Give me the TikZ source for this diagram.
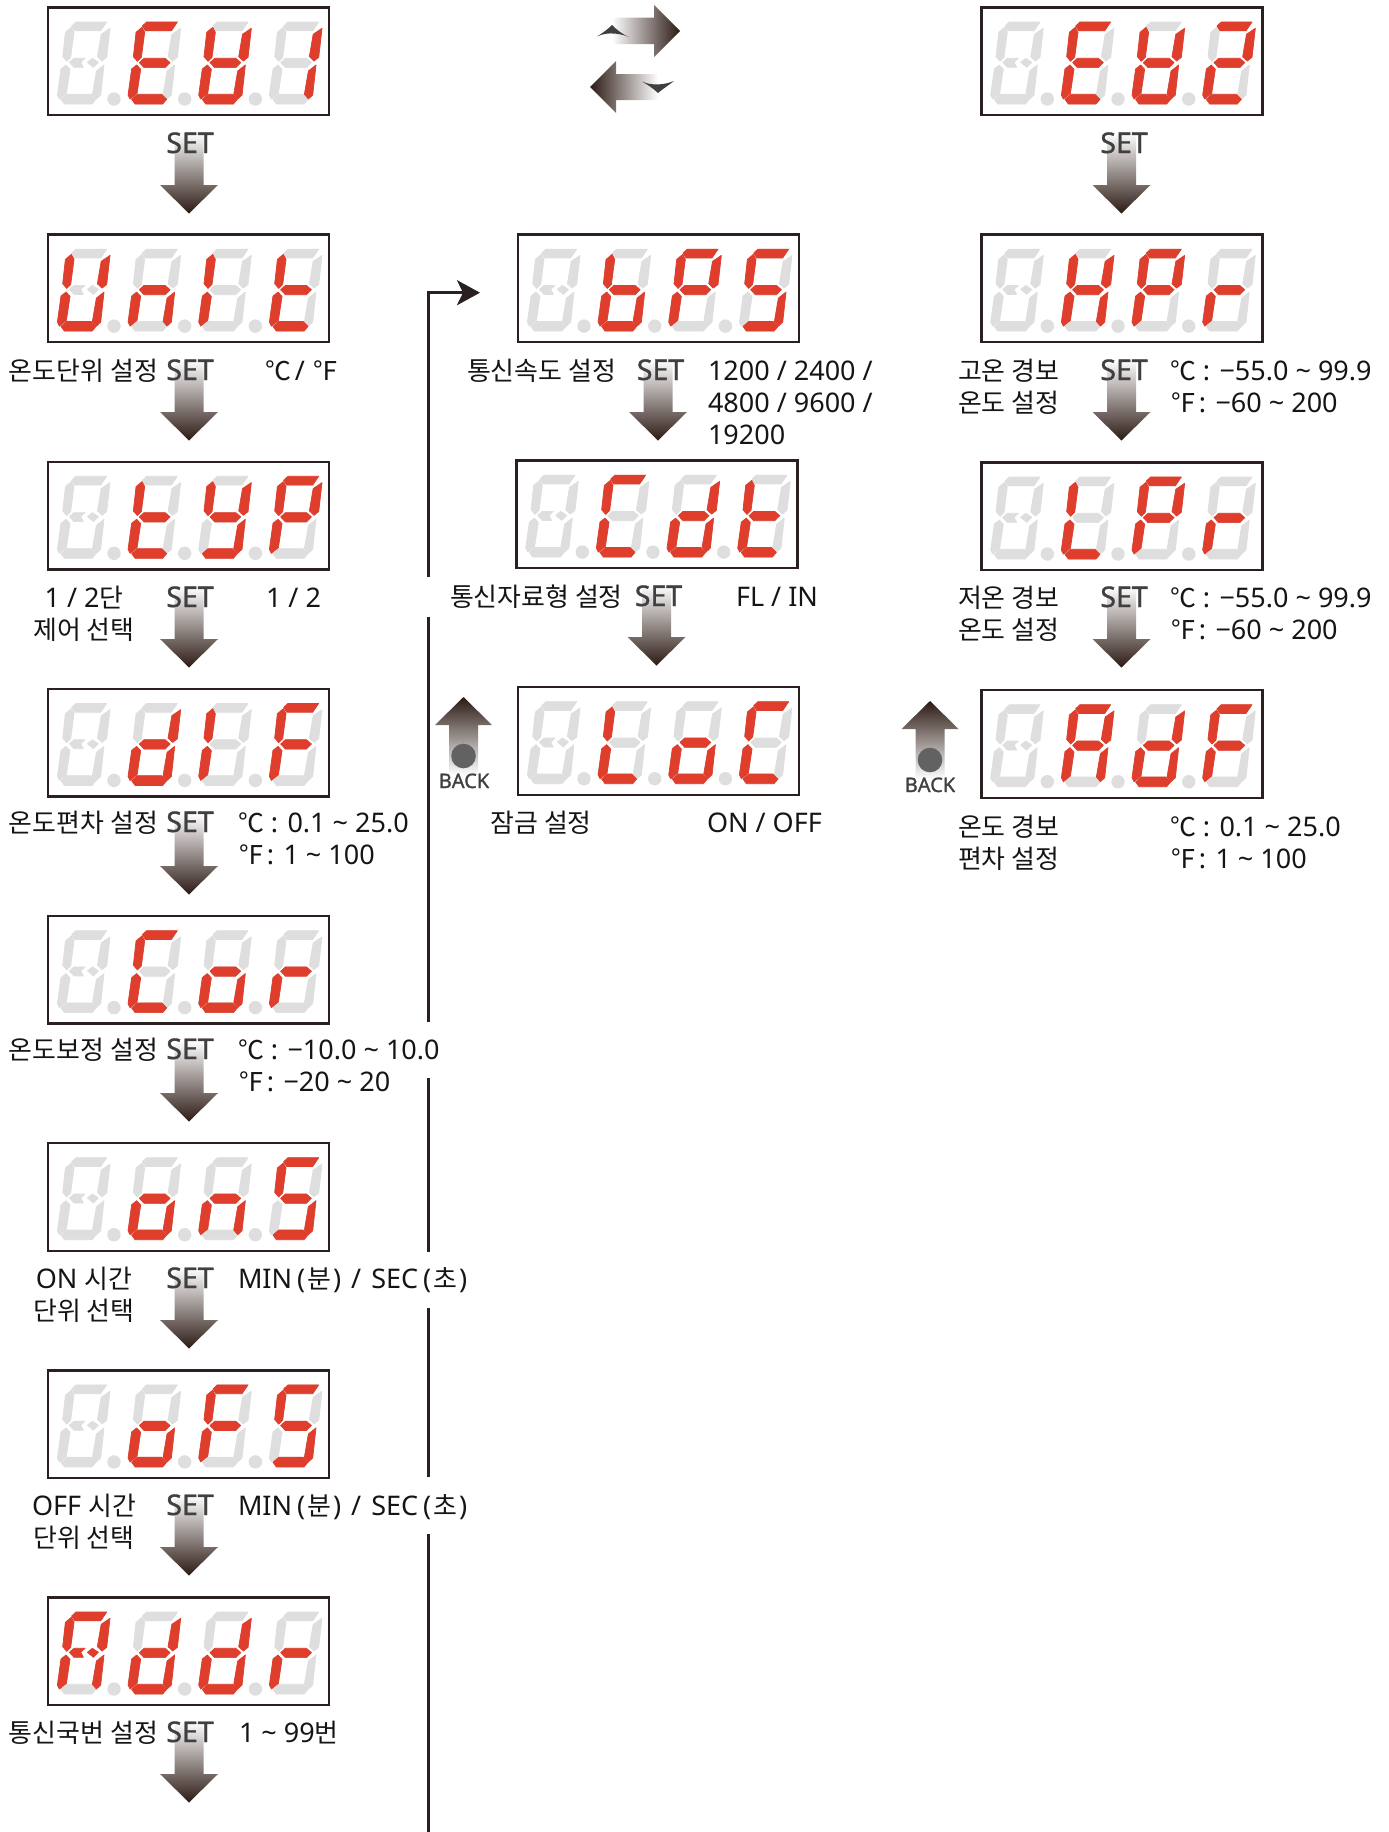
\documentclass[tikz,border=0pt]{standalone}
\usepackage{fontspec}
\setmainfont{Noto Sans}
\newfontfamily\kr[Scale=0.96]{Noto Sans CJK KR}
\newfontfamily\semib[FakeBold=1.2]{Noto Sans}
\usetikzlibrary{arrows.meta}
\definecolor{ink}{HTML}{2B2020}
\definecolor{txtc}{HTML}{151515}
\definecolor{setgray}{HTML}{404040}
\definecolor{segon}{HTML}{DF3E2C}
\definecolor{segoff}{HTML}{DEDEDE}
\newcommand\K[1]{{\kr #1}}
\newcommand\tld{\textasciitilde}
\newcommand\dc{\K{℃}}
\newcommand\df{\K{℉}\kern-4pt}
\newcommand\pa[1]{\kern5pt(\kern2pt\K{#1}\kern2pt)}
\newcommand\minsec{MIN\pa{분}\kern3pt{} / \kern3pt{}SEC\pa{초}}
\def\sega{(24,18.7)--(28.3,14.7)--(59,14.7)--(53,23.5)--(27,23.5)--cycle}
\def\segb{(62.3,21)--(59,50)--(54.3,53.7)--(49.7,49.3)--(53.5,27)--cycle}
\def\segc{(56.3,57.7)--(53,87.7)--(48.7,91.7)--(44.7,87)--(48.7,63.7)--cycle}
\def\segd{(13.3,92)--(19,87)--(43.3,87)--(48.3,92)--(44.3,96.7)--(16.7,96.7)--cycle}
\def\sege{(18.3,57.7)--(22.3,62)--(18.7,86)--(11.7,91.7)--(9.7,87.7)--(13.3,61.7)--cycle}
\def\segf{(23.7,20)--(26.3,25)--(23,50)--(19,54)--(15,49.3)--(17.7,25)--cycle}
\def\segg{(21,55.3)--(25.7,51)--(46.7,51)--(51.7,55.3)--(46.7,60.3)--(25.7,60.3)--cycle}
\def\segh{(21.7,55)--(26.3,51)--(37.3,51)--(33,55)--(35.7,60)--(26.3,60)--cycle (39.7,55)--(44.7,51)--(50.7,55)--(45.7,60)--cycle}
\def\segx{(0,0)}
\def\LE{a,f,g,e,d}\def\LH{f,b,g,e,c}\def\LHd{f,b,g,e,c,d}\def\Lone{b,c}\def\Ltwo{a,b,g,e,d}
\def\LU{f,b,e,c,d}\def\Ln{g,e,c}\def\LI{f,e}\def\Lt{f,e,g,d}\def\LY{f,b,g,c,d}\def\LP{a,f,b,g,e}
\def\Ld{b,g,e,c,d}\def\LF{a,f,g,e}\def\LC{a,f,e,d}\def\Lo{g,e,c,d}\def\Lr{g,e}\def\LS{a,f,g,c,d}
\def\Lb{f,g,e,c,d}\def\LL{f,e,d}\def\Lnone{x}\def\LA{a,f,b,g,e,c}
\def\gchar{g}
\def\xchar{x}
\newcommand\digitdraw[3]{%
  \begin{scope}[shift={(#1,0)}]
  \foreach \s in {a,b,c,d,e,f}{\path[soff] \csname seg\s\endcsname;}
  \foreach \s in #3 {\ifx\s\gchar\else\ifx\s\xchar\else\path[son] \csname seg\s\endcsname;\fi\fi}
  \ifnum#2=0
    \path[soff] \segh;
    \foreach \s in #3 {\ifx\s\gchar\path[son] \segh;\fi}
  \else
    \path[soff] \segg;
    \foreach \s in #3 {\ifx\s\gchar\path[son] \segg;\fi}
  \fi
  \end{scope}}
\newcommand\disp[7]{%
  \node[dispbox] (#1) at (#2+141,#3+54) {};
  \begin{scope}[shift={(#2,#3)}]
    \digitdraw{0}{0}{#4}\digitdraw{70.67}{1}{#5}\digitdraw{141.33}{1}{#6}\digitdraw{212}{1}{#7}
    \foreach \dx in {66.3,137,207.7}{\fill[segoff] (\dx,91.7) circle (6.7);}
  \end{scope}}
\newcommand\setarrow[2]{%
  \shade[top color=white,middle color=arrowmid,bottom color=arrowend]
    (#1-14.5,#2+17)--(#1+14.5,#2+17)--(#1+14.5,#2+69)--(#1+29,#2+69)--(#1,#2+97.5)--(#1-29,#2+69)--(#1-14.5,#2+69)--cycle;}
\newcommand\backarrow[2]{%
  \shade[bottom color=white,middle color=arrowmid,top color=arrowend]
    (#1,#2)--(#1+28.5,#2+28)--(#1+14.5,#2+28)--(#1+14.5,#2+78)--(#1-14.5,#2+78)--(#1-14.5,#2+28)--(#1-28.5,#2+28)--cycle;
  \fill[backdot] (#1,#2+59) circle (12.3);}
\definecolor{arrowmid}{HTML}{7D6860}
\definecolor{arrowend}{HTML}{2C1A14}
\definecolor{backdot}{HTML}{626262}
\tikzset{
  son/.style={fill=segon,draw=segon,line width=0.7pt,line join=round},
  soff/.style={fill=segoff,draw=segoff,line width=0.7pt,line join=round},
  dispbox/.style={draw=ink,fill=white,line width=2.4pt,minimum width=281pt,minimum height=107.5pt,inner sep=0pt,outer sep=0pt},
  lbl/.style={inner sep=0pt,outer sep=0pt,text=txtc,font=\fontsize{27}{32}\selectfont,anchor=base west},
  lblc/.style={lbl,anchor=base},
  setlbl/.style={lbl,anchor=base,text=setgray,font=\semib\fontsize{28.5}{32}\selectfont},
  backlbl/.style={lbl,anchor=base,text=setgray,font=\semib\fontsize{20}{24}\selectfont},
  flowline/.style={draw=ink,line width=2.8pt},
}
\begin{document}
\begin{tikzpicture}[x=1pt,y=-1pt]
\useasboundingbox (0,0) rectangle (1389,1832);

% arrows first so that labels lie over them
\setarrow{189}{116}
\setarrow{189}{343}
\setarrow{189}{570}
\setarrow{189}{797}
\setarrow{189}{1024}
\setarrow{189}{1251}
\setarrow{189}{1478}
\setarrow{189}{1705}
\setarrow{658}{343}
\setarrow{656.5}{568}
\setarrow{1121.5}{116}
\setarrow{1121.5}{343}
\setarrow{1121.5}{570}
\backarrow{463.5}{697}
\backarrow{930}{701}

% displays: left column
\disp{dEH}{47.7}{7.3}{\Lnone}{\LE}{\LHd}{\Lone}
\disp{dUnit}{47.7}{234.4}{\LU}{\Ln}{\LI}{\Lt}
\disp{dTyp}{47.7}{461.6}{\Lnone}{\Lt}{\LY}{\LP}
\disp{dDif}{47.7}{688.7}{\Lnone}{\Ld}{\LI}{\LF}
\disp{dCor}{47.7}{915.9}{\Lnone}{\LC}{\Lo}{\Lr}
\disp{dOns}{47.7}{1143}{\Lnone}{\Lo}{\Ln}{\LS}
\disp{dOfs}{47.7}{1370.2}{\Lnone}{\Lo}{\LF}{\LS}
\disp{dAddr}{47.7}{1597.3}{\LA}{\Ld}{\Ld}{\Lr}
% middle column
\disp{dBps}{517.7}{234.4}{\Lnone}{\Lb}{\LP}{\LS}
\disp{dCdt}{516}{460.4}{\Lnone}{\LC}{\Ld}{\Lt}
\disp{dLoc}{517.7}{687}{\Lnone}{\LL}{\Lo}{\LC}
% right column
\disp{dEHb}{981}{7.3}{\Lnone}{\LE}{\LHd}{\Ltwo}
\disp{dHpr}{981}{234.4}{\Lnone}{\LH}{\LP}{\Lr}
\disp{dLpr}{981}{462.3}{\Lnone}{\LL}{\LP}{\Lr}
\disp{dAdf}{981}{690}{\Lnone}{\LA}{\Ld}{\LF}

% swap arrows
\shade[left color=white,middle color=arrowmid,right color=arrowend]
  (612,17.5)--(654,17.5)--(654,5)--(680,31)--(654,57)--(654,44)--(612,44)--cycle;
\fill[setgray] (597,36.5) .. controls (604,32) and (608,29) .. (612,25) .. controls (617,30) and (622,34) .. (629,37) .. controls (622,34) and (608,31) .. (597,36.5) -- cycle;
\shade[right color=white,middle color=arrowmid,left color=arrowend]
  (658,74)--(616,74)--(616,61)--(590,87)--(616,113)--(616,100)--(658,100)--cycle;
\fill[setgray] (642,81.5) .. controls (652,86) and (664,85) .. (674,81) .. controls (669,85) and (664,88) .. (658,93) .. controls (654,89) and (648,85) .. (642,81.5) -- cycle;

% flow line with gaps where it passes the labels
\coordinate (f0) at (428.5,1832);
\coordinate (f1) at (428.5,1533.5);
\coordinate (f2) at (428.5,1477);
\coordinate (f3) at (428.5,1308);
\coordinate (f4) at (428.5,1251.7);
\coordinate (f5) at (428.5,1078);
\coordinate (f6) at (428.5,1022);
\coordinate (f7) at (428.5,617);
\coordinate (f8) at (428.5,577);
\coordinate (f9) at (428.5,292.7);
\coordinate (f10) at (480,292.7);
\draw[flowline] (f0)--(f1);
\draw[flowline] (f2)--(f3);
\draw[flowline] (f4)--(f5);
\draw[flowline] (f6)--(f7);
\draw[flowline,-{Stealth[length=23pt,width=25pt,inset=6pt]}] (f8)--(f9)--(f10);

% SET labels
\node[setlbl] (s1) at (190,153) {SET};
\node[setlbl] (s2) at (190,380) {SET};
\node[setlbl] (s3) at (190,607) {SET};
\node[setlbl] (s4) at (190,832) {SET};
\node[setlbl] (s5) at (190,1059) {SET};
\node[setlbl] (s6) at (190,1288) {SET};
\node[setlbl] (s7) at (190,1515) {SET};
\node[setlbl] (s8) at (190,1742) {SET};
\node[setlbl] (s9) at (660.5,380) {SET};
\node[setlbl] (s10) at (658.5,606) {SET};
\node[setlbl] (s11) at (1124,153) {SET};
\node[setlbl] (s12) at (1124,380) {SET};
\node[setlbl] (s13) at (1124,607) {SET};
\node[backlbl] (b1) at (464,788) {BACK};
\node[backlbl] (b2) at (930,792) {BACK};

% left labels
\node[lbl] (a1) at (9,380) {\K{온도단위 설정}};
\node[lbl] (a2) at (265,380) {\dc\kern-3pt{} / \K{℉}};
\node[lblc] (a3) at (84,607) {1 / 2\K{단}};
\node[lblc] (a4) at (84,639) {\K{제어 선택}};
\node[lbl] (a5) at (266,607) {1 / 2};
\node[lbl] (a6) at (9,832) {\K{온도편차 설정}};
\node[lbl] (a7) at (238,832) {\dc{} : 0.1 \tld{} 25.0};
\node[lbl] (a8) at (238,864) {\df{} : 1 \tld{} 100};
\node[lbl] (a9) at (9,1059) {\K{온도보정 설정}};
\node[lbl] (a10) at (238,1059) {\dc{} : −10.0 \tld{} 10.0};
\node[lbl] (a11) at (238,1091) {\df{} : −20 \tld{} 20};
\node[lblc] (a12) at (84,1288) {ON \K{시간}};
\node[lblc] (a13) at (84,1320) {\K{단위 선택}};
\node[lbl] (a14) at (238,1288) {\minsec};
\node[lblc] (a15) at (84,1515) {OFF \K{시간}};
\node[lblc] (a16) at (84,1547) {\K{단위 선택}};
\node[lbl] (a17) at (238,1515) {\minsec};
\node[lbl] (a18) at (9,1742) {\K{통신국번 설정}};
\node[lbl] (a19) at (239,1742) {1 \tld{} 99\K{번}};
% middle labels
\node[lbl] (m1) at (467,380) {\K{통신속도 설정}};
\node[lbl] (m2) at (708,380) {1200 / 2400 /};
\node[lbl] (m3) at (708,412) {4800 / 9600 /};
\node[lbl] (m4) at (708,444) {19200};
\node[lbl] (m5) at (450,606) {\K{통신자료형 설정}};
\node[lbl] (m6) at (736,606) {FL / IN};
\node[lbl] (m7) at (490.6,832) {\K{잠금 설정}};
\node[lbl] (m8) at (707,832) {ON / OFF};
% right labels
\node[lbl] (r1) at (958,380) {\K{고온 경보}};
\node[lbl] (r2) at (958,412) {\K{온도 설정}};
\node[lbl] (r3) at (1170,380) {\dc{} : −55.0 \tld{} 99.9};
\node[lbl] (r4) at (1170,412) {\df{} : −60 \tld{} 200};
\node[lbl] (r5) at (958,607) {\K{저온 경보}};
\node[lbl] (r6) at (958,639) {\K{온도 설정}};
\node[lbl] (r7) at (1170,607) {\dc{} : −55.0 \tld{} 99.9};
\node[lbl] (r8) at (1170,639) {\df{} : −60 \tld{} 200};
\node[lbl] (r9) at (958,836) {\K{온도 경보}};
\node[lbl] (r10) at (958,868) {\K{편차 설정}};
\node[lbl] (r11) at (1170,836) {\dc{} : 0.1 \tld{} 25.0};
\node[lbl] (r12) at (1170,868) {\df{} : 1 \tld{} 100};
\end{tikzpicture}
\end{document}
